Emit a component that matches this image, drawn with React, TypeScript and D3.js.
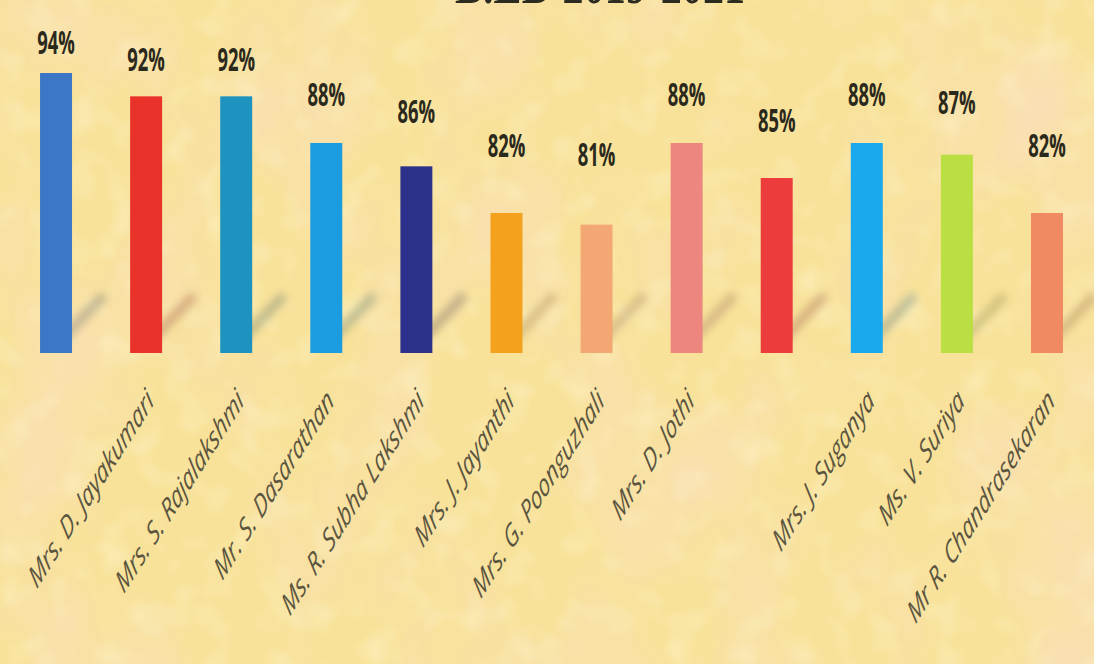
import React from "react";
import * as d3 from "d3";

// one bar per trainee, two bars carry no name label
const names = [
  "",
  "Mrs. D. Jayakumari",
  "Mrs. S. Rajalakshmi",
  "Mr. S. Dasarathan",
  "Ms. R. Subha Lakshmi",
  "Mrs. J. Jayanthi",
  "Mrs. G. Poonguzhali",
  "Mrs. D. Jothi",
  "",
  "Mrs. J. Suganya",
  "Ms. V. Suriya",
  "Mr R. Chandrasekaran",
];
const results = [94, 92, 92, 88, 86, 82, 81, 88, 85, 88, 87, 82];
const barColors = [
  "#3b77c6",
  "#e8322a",
  "#1e93bf",
  "#1b9ce0",
  "#2e318c",
  "#f4a11e",
  "#f3a874",
  "#ee8680",
  "#ec3c3c",
  "#1ba9ee",
  "#b9df42",
  "#ef8a62",
];
const title = "B.ED 2019-2021";

const W = 1094;
const H = 664;
const baseY = 353;
const stretch = 1.58; // the source photo is stretched vertically

const App = () => {
  const ids = d3.range(results.length);

  const x = d3
    .scaleBand<number>()
    .domain(ids)
    .range([11, 1092])
    .paddingInner(0.645)
    .paddingOuter(0.3225);

  const y = d3.scaleLinear().domain([70, 100]).range([baseY, 3]);

  // value labels sit on a flatter ramp than the bars themselves
  const labelY = d3.scaleLinear().domain([81, 94]).range([166, 54]);

  const shadow = (c: string) => d3.interpolateRgb(c, "#7c6a4c")(0.7);

  return (
    <svg
      width={W}
      height={H}
      style={{ position: "absolute", left: 0, top: 0 }}
    >
      <defs>
        <filter id="paper" x="0" y="0" width="100%" height="100%">
          <feTurbulence
            type="fractalNoise"
            baseFrequency="0.007 0.005"
            numOctaves={3}
            seed={7}
            result="n"
          />
          <feColorMatrix
            in="n"
            type="matrix"
            values="0 0 0 0 0.95  0 0 0 0 0.74  0 0 0 0 0.46  2.4 0 0 0 -1.1"
          />
        </filter>
        <filter id="grain" x="0" y="0" width="100%" height="100%">
          <feTurbulence
            type="fractalNoise"
            baseFrequency="0.03"
            numOctaves={2}
            seed={2}
            result="g"
          />
          <feColorMatrix
            in="g"
            type="matrix"
            values="0 0 0 0 0.99  0 0 0 0 0.95  0 0 0 0 0.68  0 1.8 0 0 -0.9"
          />
        </filter>
        <filter id="blur" x="-50%" y="-50%" width="200%" height="200%">
          <feGaussianBlur stdDeviation="4" />
        </filter>
      </defs>

      {/* background paper */}
      <rect width={W} height={H} fill="#f8e29a" />
      <rect width={W} height={H} filter="url(#paper)" />
      <rect width={W} height={H} filter="url(#grain)" opacity={0.5} />

      {/* title, cut off at the top edge */}
      <text
        x={600}
        y={3}
        textAnchor="middle"
        fontFamily="'Liberation Serif', serif"
        fontWeight="bold"
        fontSize={36}
        fill="#2b2b20"
        textLength={290}
        lengthAdjust="spacingAndGlyphs"
        transform={`translate(0,3) scale(1,${stretch}) translate(0,-3)`}
      >
        {title}
      </text>

      {/* soft diagonal shadows at bar feet */}
      {ids.map((i) => {
        const x0 = x(i)!;
        const bw = x.bandwidth();
        return (
          <line
            key={`s${i}`}
            x1={x0 + bw * 0.7}
            y1={baseY - 14}
            x2={x0 + bw + 32}
            y2={baseY - 58}
            stroke={shadow(barColors[i])}
            strokeWidth={9}
            opacity={0.4}
            filter="url(#blur)"
          />
        );
      })}

      {/* bars */}
      {ids.map((i) => (
        <rect
          key={`b${i}`}
          x={x(i)}
          y={y(results[i])}
          width={x.bandwidth()}
          height={baseY - y(results[i])}
          fill={barColors[i]}
        />
      ))}

      {/* value labels */}
      {ids.map((i) => {
        const cx = x(i)! + x.bandwidth() / 2;
        return (
          <text
            key={`v${i}`}
            transform={`translate(${cx},${labelY(results[i])}) scale(0.92,${stretch})`}
            textAnchor="middle"
            fontFamily="'Open Sans', sans-serif"
            fontWeight="bold"
            fontSize={20}
            fill="#2a291c"
          >
            {results[i]}%
          </text>
        );
      })}

      {/* category labels */}
      {ids.map((i) => {
        if (!names[i]) return null;
        const cx = x(i)! + x.bandwidth() / 2 + 4;
        return (
          <text
            key={`n${i}`}
            transform={`translate(${cx},395) scale(1,${stretch}) rotate(-45)`}
            textAnchor="end"
            dy="0.35em"
            fontFamily="'Open Sans', sans-serif"
            fontStyle="italic"
            fontSize={20}
            fill="#5b553f"
          >
            {names[i]}
          </text>
        );
      })}
    </svg>
  );
};

export default App;
